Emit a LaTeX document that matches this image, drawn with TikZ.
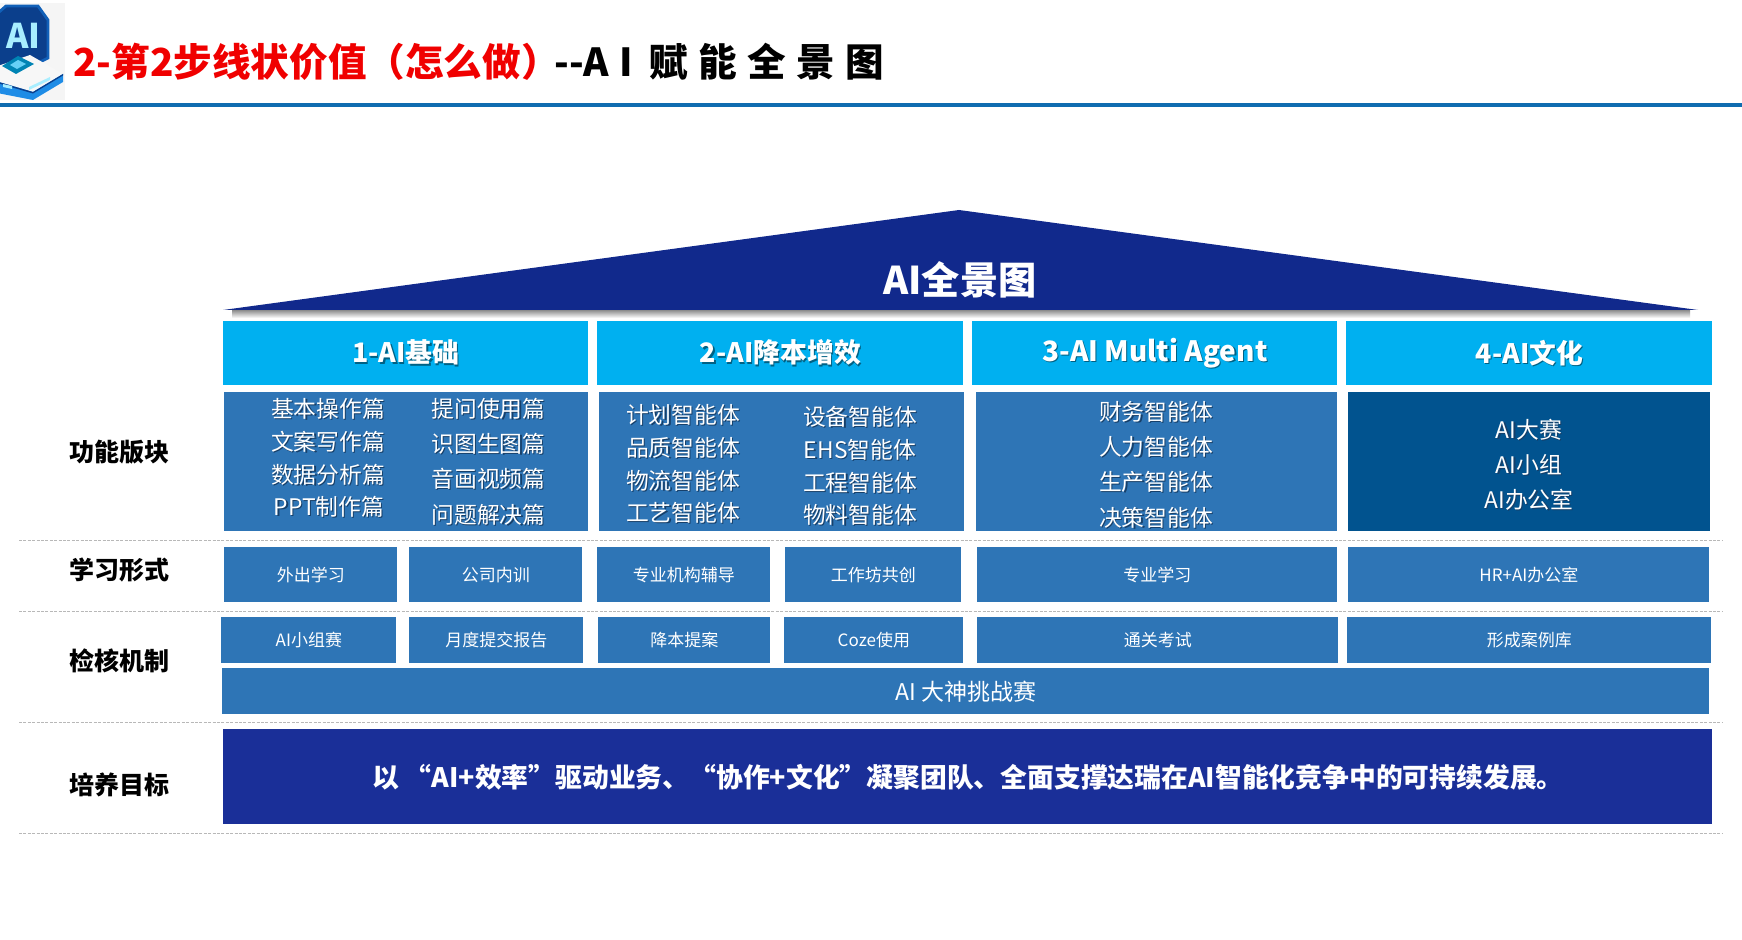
\documentclass[tikz,border=0pt]{standalone}
\usepackage{fontspec}
\setmainfont{Noto Sans CJK SC}
\usetikzlibrary{calc}
\definecolor{cyanhead}{HTML}{00B0F0}
\definecolor{midblue}{HTML}{2E75B6}
\definecolor{deepblue}{HTML}{01538F}
\definecolor{navyroof}{HTML}{11298C}
\definecolor{navygoal}{HTML}{1A2F98}
\definecolor{rulebar}{HTML}{0F6CB0}
\definecolor{titlered}{HTML}{F00000}
\definecolor{textshade}{HTML}{173F68}
\definecolor{logoedge}{HTML}{1160B8}
\definecolor{logofill}{HTML}{0B3F8C}
\definecolor{logobase}{HTML}{1E8CE6}
\definecolor{logoglyph}{HTML}{A8EEFF}
\tikzset{
  x=0.5pt,y=-0.5pt,
  headbox/.style={fill=cyanhead,text=white,font=\fontsize{13.4}{15}\selectfont\bfseries},
  bodybox/.style={fill=midblue},
  deepbox/.style={fill=deepblue},
  smallbox/.style={fill=midblue,text=white,font=\fontsize{8.5}{10}\selectfont},
  widebox/.style={fill=midblue,text=white,font=\fontsize{11.5}{13}\selectfont},
  goalbox/.style={fill=navygoal,text=white,font=\fontsize{13.4}{15}\selectfont\bfseries},
  bodytext/.style={text=white,inner sep=0pt,font=\fontsize{11.4}{13}\selectfont},
  sidelabel/.style={text=black,inner sep=0pt,font=\fontsize{12.5}{14}\selectfont\bfseries},
  sep/.style={draw=black!28,line width=0.4pt,dash pattern=on 1.5pt off 0.7pt},
}
\newcommand{\bx}[7]{%
  \pgfmathsetmacro{\bxw}{(#4-#2)*0.5}\pgfmathsetmacro{\bxh}{(#5-#3)*0.5}%
  \node[#6,anchor=north west,inner sep=0pt,minimum width=\bxw pt,minimum height=\bxh pt] (#1) at (#2,#3) {#7};}
\newcommand{\shd}[2][textshade]{\leavevmode\makebox[0pt][l]{\kern.6pt\raisebox{-.6pt}{\textcolor{#1}{#2}}}#2}
\newcommand{\tx}[4]{\node[bodytext] (#1) at (#2,#3) {\shd{#4}};}
\begin{document}
\begin{tikzpicture}
\useasboundingbox (0,0) rectangle (1742,940);
\fill[white] (0,0) rectangle (1742,940);
% logo
\begin{scope}
\clip (0,3) rectangle (65,100);
\fill[black!4] (0,3) rectangle (65,100);
\fill[logofill,draw=logoedge,line width=1.4pt] (-10,20) -- (6,6) -- (38,6) -- (48,20) -- (48,58) -- (24,70) -- (-10,66) -- cycle;
\fill[black!3!white] (-8,68) -- (30,55) -- (63,74) -- (33,92) -- (-8,80) -- cycle;
\fill[cyanhead!75!black] (2,66) -- (18,56) -- (34,64) -- (16,74) -- cycle;
\fill[cyanhead!60!white] (10,65) -- (18,60) -- (26,64) -- (17,69) -- cycle;
\fill[logobase] (-8,80) -- (33,92) -- (63,74) -- (63,82) -- (33,100) -- (-8,92) -- cycle;
\fill[logofill] (33,92) -- (63,74) -- (63,75.5) -- (33,93.5) -- (-8,81.5) -- (-8,80) -- cycle;
\fill[logoglyph] (29,87) -- (50,77) -- (50,80) -- (29,90) -- cycle;
\fill[logoglyph] (3,84) -- (12,86) -- (12,89) -- (3,87) -- cycle;
\node[anchor=east,text=logoglyph,inner sep=0pt,font=\fontsize{17}{19}\selectfont\bfseries] (logotext) at (41,36) {AI};
\end{scope}
% title
\node[anchor=west,inner sep=0pt,text=titlered,font=\fontsize{19.3}{22}\selectfont\bfseries] (title) at (73,62) {2-第2步线状价值（怎么做）};
\node[anchor=west,inner sep=0pt,text=black,font=\fontsize{19.3}{22}\selectfont\bfseries] (subtitle) at (554,62) {\spaceskip=.27em -{}-A I\kern.15em{} 赋 能 全 景 图};
\fill[rulebar] (0,103) rectangle (1742,107);
% roof
\shade[top color=black!45,bottom color=white] (232,310) rectangle (1690,318);
\fill[navyroof] (223,310) -- (959,210) -- (1698,310) -- cycle;
\node[text=white,inner sep=0pt,font=\fontsize{19.1}{22}\selectfont\bfseries] (roof) at (960,280) {AI全景图};
% heads
\bx{h1}{223}{321}{588}{385}{headbox}{\shd[black!45!cyanhead]{1-AI基础}}
\bx{h2}{597}{321}{963}{385}{headbox}{\shd[black!45!cyanhead]{2-AI降本增效}}
\bx{h3}{972}{321}{1337}{385}{headbox}{\fontsize{14}{15}\selectfont\raisebox{-1.1pt}{\shd[black!45!cyanhead]{3-AI Multi Agent}}}
\bx{h4}{1346}{321}{1712}{385}{headbox}{\shd[black!45!cyanhead]{4-AI文化}}
% bodies
\bx{b1}{224}{392}{588}{531}{bodybox}{}
\bx{b2}{599}{392}{964}{531}{bodybox}{}
\bx{b3}{976}{392}{1337}{531}{bodybox}{}
\bx{b4}{1348}{392}{1710}{531}{deepbox}{}
\tx{a1}{328}{409}{基本操作篇}
\tx{a2}{328}{442}{文案写作篇}
\tx{a3}{328}{475}{数据分析篇}
\tx{a4}{329}{507}{PPT制作篇}
\tx{a5}{488.5}{409}{提问使用篇}
\tx{a6}{488.5}{444}{识图生图篇}
\tx{a7}{488.5}{479}{音画视频篇}
\tx{a8}{488.5}{515}{问题解决篇}
\tx{c1}{683}{415}{计划智能体}
\tx{c2}{683}{448}{品质智能体}
\tx{c3}{683}{481}{物流智能体}
\tx{c4}{683}{513.5}{工艺智能体}
\tx{c5}{860}{417}{设备智能体}
\tx{c6}{860}{450}{EHS智能体}
\tx{c7}{860}{483}{工程智能体}
\tx{c8}{860}{515}{物料智能体}
\tx{d1}{1156}{412}{财务智能体}
\tx{d2}{1156}{447}{人力智能体}
\tx{d3}{1156}{482}{生产智能体}
\tx{d4}{1156}{518}{决策智能体}
\tx{e1}{1529}{430}{AI大赛}
\tx{e2}{1529}{465}{AI小组}
\tx{e3}{1529}{500}{AI办公室}
% row 2
\bx{r1}{224}{547}{397}{602}{smallbox}{外出学习}
\bx{r2}{409}{547}{582}{602}{smallbox}{公司内训}
\bx{r3}{597}{547}{770}{602}{smallbox}{专业机构辅导}
\bx{r4}{785}{547}{961}{602}{smallbox}{工作坊共创}
\bx{r5}{977}{547}{1337}{602}{smallbox}{专业学习}
\bx{r6}{1348}{547}{1709}{602}{smallbox}{HR+AI办公室}
% row 3
\bx{s1}{221}{617}{396}{663}{smallbox}{AI小组赛}
\bx{s2}{409}{617}{583}{663}{smallbox}{月度提交报告}
\bx{s3}{598}{617}{770}{663}{smallbox}{降本提案}
\bx{s4}{784}{617}{963}{663}{smallbox}{Coze使用}
\bx{s5}{977}{617}{1338}{663}{smallbox}{通关考试}
\bx{s6}{1347}{617}{1711}{663}{smallbox}{形成案例库}
\bx{s7}{222}{668}{1709}{714}{widebox}{AI 大神挑战赛}
% goal
\bx{g1}{223}{729}{1712}{824}{goalbox}{以 “AI+效率”驱动业务、“协作+文化”凝聚团队、全面支撑达瑞在AI智能化竞争中的可持续发展。}
% side labels
\node[sidelabel] (l1) at (119,452) {功能版块};
\node[sidelabel] (l2) at (119,570) {学习形式};
\node[sidelabel] (l3) at (119,661) {检核机制};
\node[sidelabel] (l4) at (119,785) {培养目标};
% separators
\coordinate (sa) at (19,540); \coordinate (sb) at (1723,540);
\coordinate (sc) at (19,611); \coordinate (sd) at (1723,611);
\coordinate (se) at (19,722); \coordinate (sf) at (1723,722);
\coordinate (sg) at (19,833); \coordinate (sh) at (1723,833);
\draw[sep] (sa) -- (sb);
\draw[sep] (sc) -- (sd);
\draw[sep] (se) -- (sf);
\draw[sep] (sg) -- (sh);
\end{tikzpicture}
\end{document}
